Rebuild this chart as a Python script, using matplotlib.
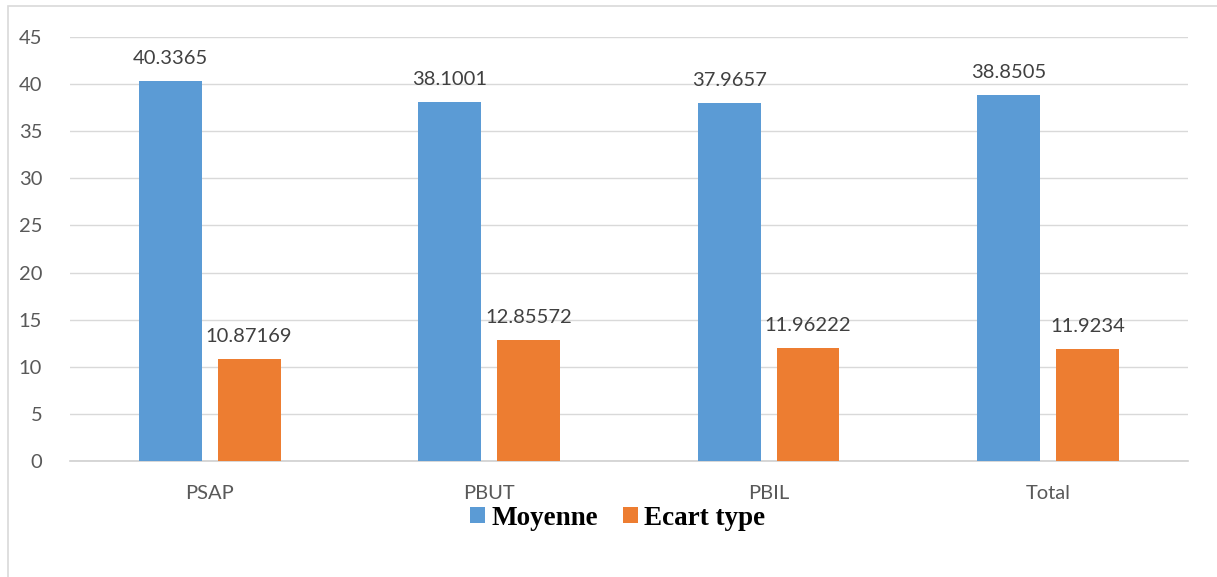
# Grouped bar chart: Moyenne / Ecart type by group

import numpy as np
import matplotlib.pyplot as plt
from matplotlib.patches import Rectangle

# Data
categories = ['PSAP', 'PBUT', 'PBIL', 'Total']
moyenne = [40.3365, 38.1001, 37.9657, 38.8505]
ecart_type = [10.87169, 12.85572, 11.96222, 11.9234]
moyenne_labels = ['40.3365', '38.1001', '37.9657', '38.8505']
ecart_labels = ['10.87169', '12.85572', '11.96222', '11.9234']

blue = '#5B9BD5'
orange = '#ED7D31'
txt = '#595959'

fig = plt.figure(figsize=(12.17, 5.77), dpi=100)
ax = fig.add_axes([0.0575, 0.201, 0.9185, 0.735])

# thin frame of the chart area (cut off on right and bottom in the original)
fig.add_artist(Rectangle((8 / 1217, -0.05), 1.2, 1 - 6 / 577 + 0.05,
                         transform=fig.transFigure, fill=False,
                         edgecolor='#D9D9D9', linewidth=1.2))

x = np.arange(len(categories))
w = 0.225
off = 0.141
b1 = ax.bar(x - off, moyenne, w, color=blue, label='Moyenne', zorder=3)
b2 = ax.bar(x + off, ecart_type, w, color=orange, label='Ecart type', zorder=3)

for bars, labs in ((b1, moyenne_labels), (b2, ecart_labels)):
    for b, lab in zip(bars, labs):
        ax.annotate(lab, (b.get_x() + b.get_width() / 2, b.get_height()),
                    xytext=(0, 10), textcoords='offset points',
                    ha='center', va='bottom', fontsize=14.5,
                    color='#404040', family='Lato')

ax.set_xlim(-0.5, len(categories) - 0.5)
ax.set_ylim(0, 45)
ax.set_yticks(range(0, 46, 5))
ax.set_xticks(x)
ax.set_xticklabels(categories)
ax.tick_params(axis='both', length=0, labelsize=14.5, labelcolor=txt)
ax.tick_params(axis='y', pad=20)
ax.tick_params(axis='x', pad=17)
for lab in ax.get_xticklabels() + ax.get_yticklabels():
    lab.set_family('Lato')

ax.grid(axis='y', color='#D9D9D9', linewidth=1, zorder=0)
for s in ['top', 'right', 'left']:
    ax.spines[s].set_visible(False)
ax.spines['bottom'].set_color('#D0D0D0')
ax.spines['bottom'].set_linewidth(1.2)

ax.legend(loc='center', bbox_to_anchor=(0.49, -0.135), ncol=2, frameon=False,
          prop={'family': 'Liberation Serif', 'weight': 'bold', 'size': 19.5},
          handlelength=0.55, handleheight=0.55, handletextpad=0.25,
          columnspacing=0.9)

plt.savefig('out.png', dpi=100)
